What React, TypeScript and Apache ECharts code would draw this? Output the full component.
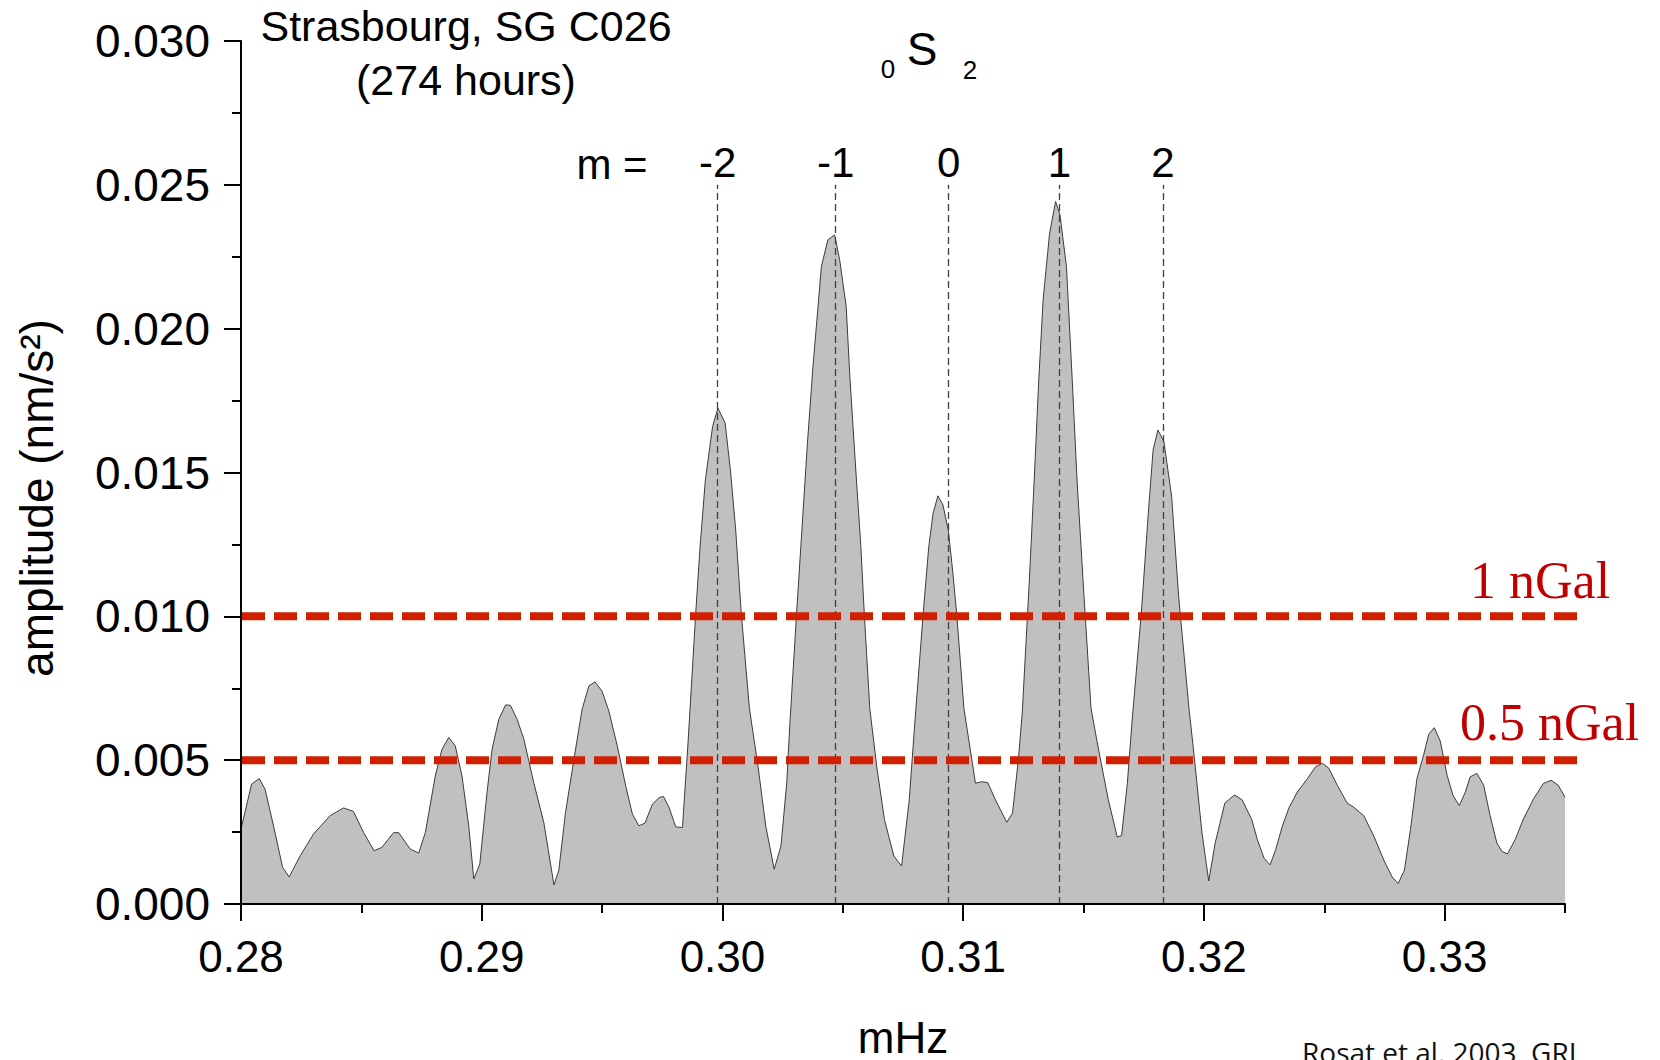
import React, { useEffect, useRef } from 'react';
import * as echarts from 'echarts';

// Spectrum of 0S2 (Strasbourg SG C026, 274 hours)
const freq = [
  0.28000, 0.28044, 0.28076, 0.28100, 0.28135, 0.28173, 0.28200, 0.28246, 0.28301, 0.28370,
  0.28426, 0.28467, 0.28509, 0.28553, 0.28585, 0.28634, 0.28655, 0.28703, 0.28738, 0.28766,
  0.28807, 0.28835, 0.28863, 0.28890, 0.28918, 0.28946, 0.28967, 0.28992, 0.29022, 0.29043,
  0.29071, 0.29099, 0.29119, 0.29147, 0.29175, 0.29216, 0.29258, 0.29300, 0.29320, 0.29348,
  0.29383, 0.29417, 0.29445, 0.29470, 0.29500, 0.29528, 0.29563, 0.29598, 0.29626, 0.29653,
  0.29678, 0.29709, 0.29737, 0.29755, 0.29778, 0.29806, 0.29834, 0.29857, 0.29889, 0.29907,
  0.29929, 0.29959, 0.29981, 0.30011, 0.30033, 0.30055, 0.30078, 0.30112, 0.30148, 0.30180,
  0.30215, 0.30243, 0.30267, 0.30281, 0.30308, 0.30330, 0.30352, 0.30376, 0.30411, 0.30438,
  0.30466, 0.30487, 0.30514, 0.30530, 0.30552, 0.30575, 0.30589, 0.30612, 0.30641, 0.30673,
  0.30712, 0.30744, 0.30776, 0.30800, 0.30834, 0.30857, 0.30875, 0.30895, 0.30916, 0.30938,
  0.30953, 0.30973, 0.31003, 0.31030, 0.31051, 0.31078, 0.31102, 0.31134, 0.31181, 0.31205,
  0.31229, 0.31245, 0.31275, 0.31295, 0.31314, 0.31332, 0.31359, 0.31384, 0.31402, 0.31429,
  0.31453, 0.31473, 0.31502, 0.31531, 0.31563, 0.31603, 0.31640, 0.31658, 0.31682, 0.31702,
  0.31740, 0.31769, 0.31789, 0.31809, 0.31834, 0.31866, 0.31895, 0.31938, 0.31960, 0.31992,
  0.32020, 0.32047, 0.32087, 0.32127, 0.32159, 0.32199, 0.32222, 0.32250, 0.32275, 0.32298,
  0.32326, 0.32354, 0.32388, 0.32430, 0.32464, 0.32492, 0.32519, 0.32554, 0.32595, 0.32623,
  0.32664, 0.32706, 0.32747, 0.32782, 0.32807, 0.32833, 0.32858, 0.32885, 0.32913, 0.32934,
  0.32957, 0.32982, 0.33010, 0.33035, 0.33061, 0.33086, 0.33106, 0.33134, 0.33162, 0.33189,
  0.33217, 0.33238, 0.33261, 0.33293, 0.33327, 0.33369, 0.33410, 0.33442, 0.33472, 0.33500,
];

const amplitude = [
  0.00260, 0.00417, 0.00436, 0.00399, 0.00272, 0.00127, 0.00094, 0.00168, 0.00243, 0.00307,
  0.00334, 0.00322, 0.00249, 0.00185, 0.00197, 0.00248, 0.00248, 0.00191, 0.00177, 0.00249,
  0.00445, 0.00538, 0.00579, 0.00550, 0.00445, 0.00272, 0.00087, 0.00139, 0.00388, 0.00538,
  0.00642, 0.00692, 0.00691, 0.00642, 0.00573, 0.00422, 0.00283, 0.00066, 0.00116, 0.00318,
  0.00503, 0.00677, 0.00758, 0.00772, 0.00740, 0.00671, 0.00550, 0.00411, 0.00312, 0.00272,
  0.00281, 0.00347, 0.00370, 0.00374, 0.00336, 0.00268, 0.00266, 0.00560, 0.01011, 0.01242,
  0.01474, 0.01660, 0.01724, 0.01672, 0.01509, 0.01300, 0.01011, 0.00680, 0.00477, 0.00270,
  0.00121, 0.00201, 0.00420, 0.00640, 0.01011, 0.01300, 0.01590, 0.01868, 0.02216, 0.02309,
  0.02326, 0.02239, 0.02077, 0.01822, 0.01533, 0.01242, 0.01011, 0.00680, 0.00477, 0.00293,
  0.00167, 0.00132, 0.00362, 0.00640, 0.01011, 0.01242, 0.01358, 0.01419, 0.01387, 0.01300,
  0.01185, 0.01011, 0.00680, 0.00534, 0.00420, 0.00425, 0.00422, 0.00362, 0.00284, 0.00316,
  0.00500, 0.00660, 0.01127, 0.01474, 0.01822, 0.02100, 0.02332, 0.02442, 0.02396, 0.02216,
  0.01822, 0.01474, 0.01069, 0.00680, 0.00534, 0.00362, 0.00233, 0.00238, 0.00420, 0.00640,
  0.01011, 0.01358, 0.01579, 0.01648, 0.01607, 0.01416, 0.01069, 0.00680, 0.00511, 0.00247,
  0.00080, 0.00213, 0.00351, 0.00379, 0.00362, 0.00293, 0.00224, 0.00159, 0.00136, 0.00189,
  0.00271, 0.00336, 0.00389, 0.00436, 0.00477, 0.00489, 0.00472, 0.00413, 0.00351, 0.00336,
  0.00307, 0.00236, 0.00153, 0.00094, 0.00071, 0.00118, 0.00259, 0.00436, 0.00519, 0.00590,
  0.00613, 0.00566, 0.00448, 0.00377, 0.00342, 0.00389, 0.00442, 0.00454, 0.00413, 0.00307,
  0.00212, 0.00183, 0.00174, 0.00224, 0.00295, 0.00365, 0.00419, 0.00430, 0.00413, 0.00371,
];

// Singlet frequencies (azimuthal order m)
const mLabels = ['-2', '-1', '0', '1', '2'];
const mFreqs = [0.2998, 0.3047, 0.3094, 0.3140, 0.3183];
const mLineTop = 0.025;

// Noise levels
const levelValues = [0.01, 0.005];
const levelLabels = ['1 nGal', '0.5 nGal'];
const levelStart = 0.28;
const levelEnd = 0.3355;

// Axis ticks
const xMajorTicks = [0.28, 0.29, 0.30, 0.31, 0.32, 0.33];
const xMinorTicks = [0.285, 0.295, 0.305, 0.315, 0.325, 0.335];
const xMin = 0.28;
const xMax = 0.335;
const yMin = 0;
const yMax = 0.03;
const yStep = 0.005;

const SANS = "'Liberation Sans', Arial, Helvetica, sans-serif";
const SERIF = "'Liberation Serif', 'Times New Roman', serif";
const RED_LINE = '#d02000';
const RED_TEXT = '#c00000';
const DASH = 23;
const GAP = 9;

export default function App() {
  const ref = useRef<HTMLDivElement>(null);

  useEffect(() => {
    const chart = echarts.init(ref.current as HTMLDivElement, null, { renderer: 'svg' });

    const spectrum = freq.map((f, i) => [f, amplitude[i]]);

    const txt = (id: string, text: string, x: number, y: number, font: number, extra: any = {}) => ({
      id,
      type: 'text',
      x,
      y,
      silent: true,
      z: 10,
      style: {
        text,
        fontSize: font,
        fontFamily: SANS,
        fill: '#000',
        textAlign: 'center',
        textVerticalAlign: 'middle',
        ...(extra.style || {}),
      },
      ...(extra.el || {}),
    });

    const baseGraphics: any[] = [
      txt('t1', 'Strasbourg, SG C026', 466, 26, 43),
      txt('t2', '(274 hours)', 466, 80, 43),
      txt('s0', '0', 888, 69, 26),
      txt('sS', 'S', 922, 49, 46),
      txt('s2', '2', 970, 70, 26),
      txt('meq', 'm =', 612, 164, 42),
      txt('lv0', levelLabels[0], 1470, 580, 52, { style: { fontFamily: SERIF, fill: RED_TEXT, textAlign: 'left' } }),
      txt('lv1', levelLabels[1], 1460, 722, 52, { style: { fontFamily: SERIF, fill: RED_TEXT, textAlign: 'left' } }),
      txt('yname', 'amplitude (nm/s\u00B2)', 37, 498, 46, { el: { rotation: Math.PI / 2 } }),
      txt('xname', 'mHz', 903, 1037, 44, { style: { lineHeight: 40 } }),
      txt('src', 'Rosat et al. 2003, GRL', 1302, 1052, 28, {
        style: { fontFamily: "'Open Sans', 'Noto Sans', sans-serif", textAlign: 'left', fill: '#111' },
      }),
    ];

    const option: any = {
      animation: false,
      backgroundColor: '#ffffff',
      grid: { left: 241, right: 95, top: 41, bottom: 156 },
      xAxis: [
        {
          type: 'value',
          min: xMin,
          max: xMax,
          interval: 0.01,
          position: 'bottom',
          z: 6,
          axisLine: { show: true, onZero: false, lineStyle: { color: '#000', width: 2 } },
          axisTick: { show: true, customValues: xMajorTicks, length: 17, lineStyle: { color: '#000', width: 2 } },
          axisLabel: {
            customValues: xMajorTicks,
            formatter: (v: number) => v.toFixed(2),
            fontSize: 44,
            fontFamily: SANS,
            color: '#000',
            margin: 30,
          },
          splitLine: { show: false },
        },
        {
          type: 'value',
          min: xMin,
          max: xMax,
          interval: 0.005,
          position: 'bottom',
          z: 6,
          axisLine: { show: false, onZero: false },
          axisTick: { show: true, customValues: xMinorTicks, length: 9, lineStyle: { color: '#000', width: 2 } },
          axisLabel: { show: false },
          splitLine: { show: false },
        },
      ],
      yAxis: {
        type: 'value',
        min: yMin,
        max: yMax,
        interval: yStep,
        z: 6,
        axisLine: { show: true, lineStyle: { color: '#000', width: 2 } },
        axisTick: { show: true, length: 17, lineStyle: { color: '#000', width: 2 } },
        minorTick: { show: true, splitNumber: 2, length: 9, lineStyle: { color: '#000', width: 2 } },
        axisLabel: {
          formatter: (v: number) => v.toFixed(3),
          fontSize: 46,
          fontFamily: SANS,
          color: '#000',
          margin: 31,
        },
        splitLine: { show: false },
        minorSplitLine: { show: false },
      },
      series: [
        {
          type: 'line',
          data: spectrum,
          symbol: 'none',
          silent: true,
          z: 2,
          lineStyle: { color: '#3c3c3c', width: 1 },
          areaStyle: { color: '#c0c0c0', opacity: 1 },
          markLine: {
            silent: true,
            symbol: ['none', 'none'],
            lineStyle: { color: '#404040', width: 1.3, type: [7, 4] },
            label: {
              show: true,
              position: 'end',
              distance: 1,
              formatter: '{b}',
              fontSize: 42,
              fontFamily: SANS,
              color: '#000',
            },
            data: mFreqs.map((f, i) => [
              { coord: [f, 0], name: mLabels[i] },
              { coord: [f, mLineTop] },
            ]),
          },
        },
      ],
      graphic: baseGraphics,
    };

    chart.setOption(option);

    // Noise-level lines extend slightly past the axis end, so draw them
    // through the grid's own scale rather than as clipped series.
    const levelGraphics = levelValues.map((v, i) => {
      const p0 = chart.convertToPixel({ gridIndex: 0 }, [levelStart, v]) as number[];
      const p1 = chart.convertToPixel({ gridIndex: 0 }, [levelEnd, v]) as number[];
      const len = p1[0] - p0[0];
      const period = DASH + GAP;
      const offset = (((DASH - len) % period) + period) % period;
      return {
        id: 'level' + i,
        type: 'line',
        silent: true,
        z: 8,
        shape: { x1: p0[0], y1: p0[1], x2: p1[0], y2: p1[1] },
        style: { stroke: RED_LINE, lineWidth: 8, lineDash: [DASH, GAP], lineDashOffset: offset },
      };
    });

    chart.setOption({ graphic: [...baseGraphics, ...levelGraphics] });

    return () => chart.dispose();
  }, []);

  return (
    <div
      ref={ref}
      style={{ position: 'fixed', left: 0, top: 0, width: 1660, height: 1060, background: '#fff' }}
    />
  );
}
